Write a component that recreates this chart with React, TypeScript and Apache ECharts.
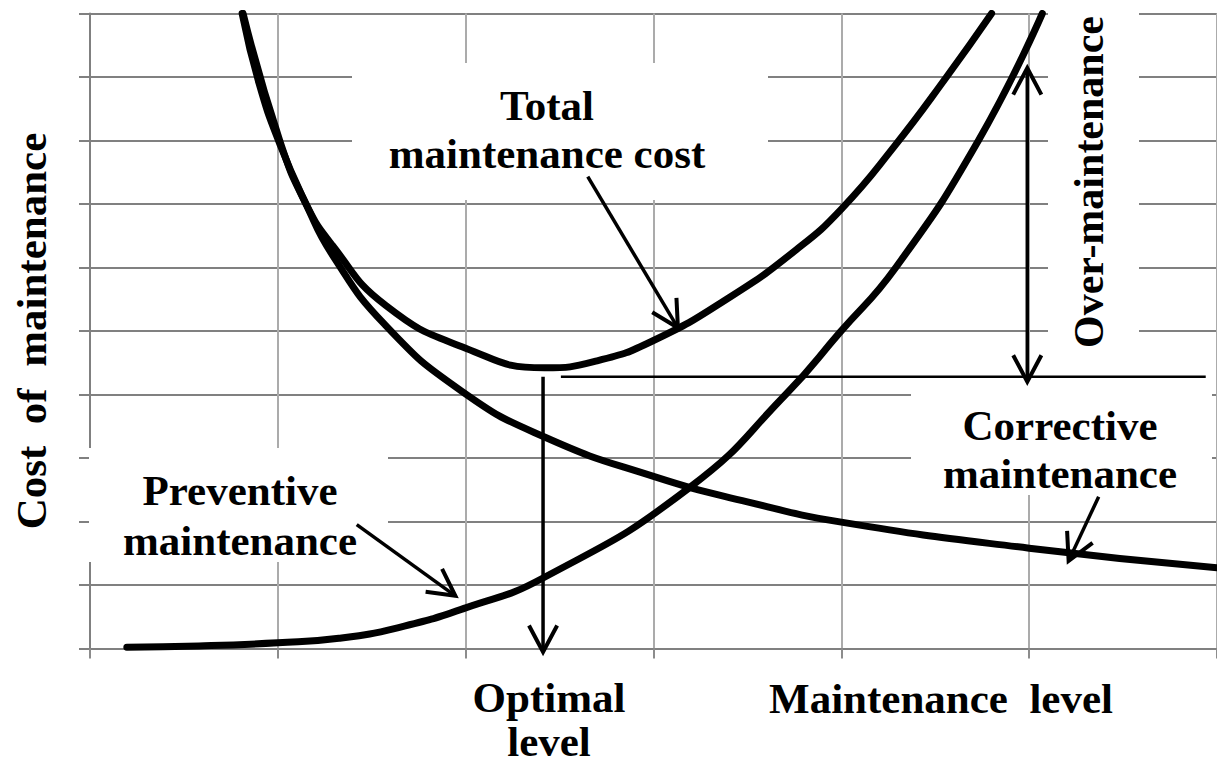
import React, { useEffect, useRef } from "react";
import * as echarts from "echarts";

// ---- data ----
const preventiveData: [number, number][] = [
  [0.196, 0.02], [0.58, 0.04], [1.0, 0.09], [1.325, 0.16], [1.643, 0.33], [2.0, 0.64],
  [2.412, 1.11], [3.19, 2.53], [3.71, 4.02], [3.99, 4.97], [4.29, 6.0],
  [4.73, 8.0], [5.07, 10.0],
];
const correctiveData: [number, number][] = [
  [0.81, 10.0], [0.9, 8.9], [1.01, 7.95], [1.15, 7.0], [1.29, 6.2], [1.57, 5.1],
  [1.98, 4.05], [2.42, 3.33], [3.0, 2.71], [3.5, 2.31], [4.0, 1.99], [5.0, 1.58],
  [6.0, 1.27],
];
const totalData: [number, number][] = [
  [0.815, 10.0], [1.01, 8.0], [1.15, 7.0], [1.29, 6.35], [1.575, 5.4], [2.0, 4.73],
  [2.42, 4.42], [2.7, 4.53], [3.0, 4.85], [3.41, 5.54], [3.76, 6.28], [4.0, 6.92],
  [4.28, 7.9], [4.56, 9.0], [4.8, 10.0],
];

// optimum and annotation anchors (data coordinates)
const optimalX = 2.412;
const optimalY = 4.28;
const optimalLineEndX = 5.94;
const overMaintX = 4.99;
const overMaintTopY = 9.14;
const overMaintBottomY = 4.2;
const totalArrow: [number, number][] = [[2.65, 7.43], [3.13, 5.05]];
const preventiveArrow: [number, number][] = [[1.42, 1.95], [1.945, 0.83]];
const correctiveArrow: [number, number][] = [[5.37, 2.39], [5.21, 1.38]];

const FONT = '"Liberation Serif", "Times New Roman", serif';

export default function App() {
  const ref = useRef<HTMLDivElement>(null);

  useEffect(() => {
    const chart = echarts.init(ref.current!, null, { renderer: "svg" });
    const curve = (name: string, data: [number, number][]) => ({
      type: "line",
      name,
      data,
      symbol: "none",
      smooth: 0.5,
      lineStyle: { color: "#000", width: 7, cap: "round" },
      z: 3,
    });
    chart.setOption({
      animation: false,
      backgroundColor: "#fff",
      grid: { left: 90, right: -5, top: 13.5, bottom: 115.5, containLabel: false },
      xAxis: {
        type: "value",
        min: 0,
        max: 6,
        interval: 1,
        axisLine: { show: true, onZero: false, lineStyle: { color: "#808080", width: 2 } },
        axisTick: { show: true, length: 10, lineStyle: { color: "#8c8c8c", width: 2 } },
        axisLabel: { show: false },
        splitLine: { show: true, lineStyle: { color: "#ababab", width: 2 } },
      },
      yAxis: {
        type: "value",
        min: 0,
        max: 10,
        interval: 1,
        name: "Cost  of  maintenance",
        nameLocation: "middle",
        nameRotate: 90,
        nameGap: 37,
        nameTextStyle: { fontFamily: FONT, fontWeight: "bold", fontSize: 43, color: "#000" },
        axisLine: { show: true, lineStyle: { color: "#808080", width: 2 } },
        axisTick: { show: true, length: 11, lineStyle: { color: "#808080", width: 2 } },
        axisLabel: { show: false },
        splitLine: { show: true, lineStyle: { color: "#808080", width: 2 } },
      },
      series: [
        curve("Preventive maintenance", preventiveData),
        curve("Corrective maintenance", correctiveData),
        curve("Total maintenance cost", totalData),
      ],
    });

    const p = (x: number, y: number): number[] =>
      chart.convertToPixel({ gridIndex: 0 }, [x, y]) as number[];

    const head = (tip: number[], from: number[], len = 30, angDeg = 28, z = 20) => {
      const dx = from[0] - tip[0];
      const dy = from[1] - tip[1];
      const d = Math.hypot(dx, dy);
      const ux = dx / d;
      const uy = dy / d;
      const a = (angDeg * Math.PI) / 180;
      const c = Math.cos(a);
      const s = Math.sin(a);
      const p1 = [tip[0] + len * (ux * c - uy * s), tip[1] + len * (ux * s + uy * c)];
      const p2 = [tip[0] + len * (ux * c + uy * s), tip[1] + len * (-ux * s + uy * c)];
      return {
        type: "polyline",
        z,
        shape: { points: [p1, tip, p2] },
        style: { stroke: "#000", lineWidth: 4, fill: null, lineJoin: "miter" },
      };
    };
    const shaft = (a: number[], b: number[], w = 3.5, z = 20) => ({
      type: "line",
      z,
      shape: { x1: a[0], y1: a[1], x2: b[0], y2: b[1] },
      style: { stroke: "#000", lineWidth: w },
    });
    const arrow = (from: [number, number], to: [number, number]) => {
      const a = p(from[0], from[1]);
      const b = p(to[0], to[1]);
      return [shaft(a, b), head(b, a)];
    };
    const box = (x: number, y: number, w: number, h: number) => ({
      type: "rect",
      z: 1,
      shape: { x, y, width: w, height: h },
      style: { fill: "#fff" },
    });
    const label = (text: string, x: number, y: number, size = 43, extra: any = {}) => ({
      type: "text",
      z: 30,
      x,
      y,
      ...extra,
      style: {
        text,
        fontFamily: FONT,
        fontWeight: "bold",
        fontSize: size,
        fill: "#000",
        align: "center",
        verticalAlign: "middle",
      },
    });

    const optTop = p(optimalX, optimalY);
    const optBottom = p(optimalX, -0.055);
    const hStart = p(optimalX + 0.095, optimalY);
    const hEnd = p(optimalLineEndX, optimalY);
    const omTop = p(overMaintX, overMaintTopY);
    const omBottom = p(overMaintX, overMaintBottomY);

    chart.setOption({
      graphic: [
        box(352, 63, 416, 137),
        box(89, 448, 299, 114),
        box(911, 381, 301, 114),
        box(1048, 0, 91, 370),
        shaft(optTop, optBottom),
        head(optBottom, optTop),
        shaft(hStart, hEnd, 2.5),
        shaft(omTop, omBottom),
        head(omTop, omBottom),
        head(omBottom, omTop),
        ...arrow(totalArrow[0], totalArrow[1]),
        ...arrow(preventiveArrow[0], preventiveArrow[1]),
        ...arrow(correctiveArrow[0], correctiveArrow[1]),
        label("Total", 547, 105),
        label("maintenance cost", 547, 153),
        label("Preventive", 240, 490),
        label("maintenance", 240, 540),
        label("Corrective", 1060, 425),
        label("maintenance", 1060, 473),
        label("Optimal", 549, 697),
        label("level", 549, 741),
        label("Maintenance  level", 941, 698),
        label("Over-maintenance", 1089, 182, 42, { rotation: Math.PI / 2 }),
      ],
    });

    return () => chart.dispose();
  }, []);

  return (
    <div
      ref={ref}
      style={{ position: "absolute", left: 0, top: 0, width: 1217, height: 764, background: "#fff" }}
    />
  );
}
